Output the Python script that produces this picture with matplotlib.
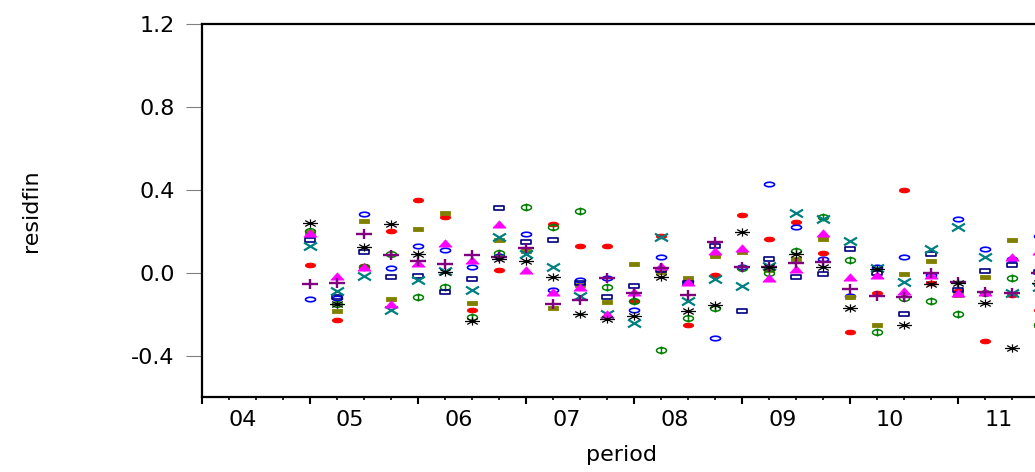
import numpy as np
import matplotlib
matplotlib.use("Agg")
import matplotlib.pyplot as plt
from matplotlib.path import Path
from matplotlib.ticker import FixedLocator, MultipleLocator, FormatStrFormatter
from matplotlib.transforms import ScaledTranslation

# quarters 2005Q1 .. 2011Q4, counted from 2004Q1 = 0
quarters = list(range(4, 32))
year_labels = ["04", "05", "06", "07", "08", "09", "10", "11"]

# residuals per cross-section
s_blue = [-0.129, -0.12, 0.284, 0.024, 0.129, 0.11, 0.029, 0.08, 0.186, -0.084, -0.035, -0.024, -0.18, 0.077,
          -0.04, -0.317, 0.03, 0.428, 0.22, 0.065, -0.113, 0.029, 0.074, -0.01, 0.258, 0.113, 0.065, 0.177]
s_red = [0.037, -0.229, 0.032, 0.202, 0.352, 0.271, -0.179, 0.013, 0.105, 0.236, 0.131, 0.129, -0.137, 0.178,
         -0.25, -0.011, 0.278, 0.161, 0.247, 0.094, -0.285, -0.1, 0.4, -0.05, -0.09, -0.329, -0.108, -0.18]
s_olive = [0.198, -0.185, 0.249, -0.129, 0.21, 0.287, -0.148, 0.158, 0.105, -0.169, -0.06, -0.14, 0.04, 0.005,
           -0.027, 0.082, 0.102, 0.013, 0.065, 0.161, -0.119, -0.253, -0.008, 0.057, -0.108, -0.019, 0.158, -0.25]
s_green = [0.2, -0.15, 0.03, 0.09, -0.119, -0.068, -0.216, 0.094, 0.319, 0.223, 0.3, -0.071, -0.137, -0.371,
           -0.218, -0.172, 0.021, -0.003, 0.107, 0.271, 0.061, -0.288, -0.124, -0.137, -0.2, -0.1, -0.027, -0.25]
s_navy = [0.158, -0.119, 0.1, -0.021, -0.014, -0.095, -0.032, 0.313, 0.147, 0.158, -0.05, -0.119, -0.064, 0.015,
          -0.05, 0.131, -0.184, 0.065, -0.019, -0.008, 0.113, -0.003, -0.2, 0.089, -0.084, 0.008, 0.037, 0.005]
s_teal = [0.129, -0.087, -0.016, -0.18, -0.035, 0.008, -0.084, 0.174, 0.09, 0.026, -0.111, -0.197, -0.242, 0.171,
          -0.135, -0.03, -0.064, 0.032, 0.287, 0.258, 0.153, 0.021, -0.047, 0.113, 0.22, 0.077, -0.1, -0.068]
s_magenta = [0.19, -0.014, 0.026, -0.153, 0.045, 0.145, 0.061, 0.236, 0.013, -0.092, -0.071, -0.197, -0.092, 0.032,
             -0.044, 0.107, 0.121, -0.027, 0.016, 0.19, -0.019, -0.01, -0.089, -0.011, -0.097, -0.092, 0.077, 0.107]
s_purple = [-0.056, -0.048, 0.187, 0.087, 0.057, 0.042, 0.086, 0.077, 0.118, -0.151, -0.132, -0.024, -0.1, 0.021,
            -0.108, 0.15, 0.026, 0.029, 0.048, 0.053, -0.076, -0.113, -0.116, 0.0, -0.044, -0.092, -0.097, 0.0]
s_black = [0.239, -0.151, 0.126, 0.234, 0.09, 0.005, -0.232, 0.065, 0.058, -0.019, -0.197, -0.221, -0.21, -0.022,
           -0.185, -0.156, 0.198, 0.03, 0.09, 0.029, -0.169, 0.018, -0.25, -0.055, -0.051, -0.145, -0.361, -0.05]

# wide (horizontally stretched) marker shapes
t = np.linspace(0, 2 * np.pi, 40)
ellipse = Path(np.column_stack([np.cos(t), 0.45 * np.sin(t)]), closed=True)
rect = Path([(-1, -0.5), (1, -0.5), (1, 0.5), (-1, 0.5), (-1, -0.5)], closed=True)
tri = Path([(-1, -0.55), (1, -0.55), (0, 0.55), (-1, -0.55)], closed=True)
plus = Path([(-1, 0), (1, 0), (0, -0.6), (0, 0.6)], [Path.MOVETO, Path.LINETO, Path.MOVETO, Path.LINETO])
cross = Path([(-1, -0.6), (1, 0.6), (-1, 0.6), (1, -0.6)], [Path.MOVETO, Path.LINETO, Path.MOVETO, Path.LINETO])
ang = np.deg2rad([0, 45, 90, 135])
star_v, star_c = [], []
for a in ang:
    star_v += [(np.cos(a), 0.55 * np.sin(a)), (-np.cos(a), -0.55 * np.sin(a))]
    star_c += [Path.MOVETO, Path.LINETO]
star = Path(star_v, star_c)
phi_v = [(np.cos(a), 0.55 * np.sin(a)) for a in t] + [(0, -0.8), (0, 0.8)]
phi_c = [Path.MOVETO] + [Path.LINETO] * (len(t) - 1) + [Path.MOVETO, Path.LINETO]
phi = Path(phi_v, phi_c)

fig = plt.figure(figsize=(10.35, 4.72), dpi=100)
ax = fig.add_axes([201.7 / 1035, (472 - 397) / 472, 972 / 1035, 372.7 / 472])

x = np.array(quarters)
# (values, marker, size px, edge colour, face colour, edge width pt)
series = [
    (s_red, ellipse, 10, "#FF0000", "#FF0000", 0.8),
    (s_blue, ellipse, 10, "#0000FF", "none", 1.2),
    (s_olive, rect, 10, "#808000", "#808000", 0.6),
    (s_green, phi, 10, "#008000", "none", 1.1),
    (s_navy, rect, 10, "#000080", "none", 1.2),
    (s_teal, cross, 13, "#008080", "none", 1.6),
    (s_magenta, tri, 13, "#FF00FF", "#FF00FF", 0.6),
    (s_purple, plus, 16, "#800080", "none", 1.7),
    (s_black, star, 15, "#000000", "none", 0.9),
]
for vals, mk, sz, ec, fc, mew in series:
    ax.plot(x, vals, linestyle="none", marker=mk, ms=sz * 0.72, mec=ec, mfc=fc, mew=mew)

ax.set_xlim(0, 36)
ax.set_ylim(-0.6, 1.2)

ax.yaxis.set_major_locator(FixedLocator([-0.4, 0.0, 0.4, 0.8, 1.2]))
ax.yaxis.set_major_formatter(FormatStrFormatter("%.1f"))
ax.tick_params(axis="y", direction="out", length=11.5, width=0.8, color="#808080",
               pad=8, labelsize=16, labelcolor="black")

ax.xaxis.set_minor_locator(MultipleLocator(1))
ax.set_xticks(range(0, 32, 4))
ax.set_xticklabels(year_labels)
ax.tick_params(axis="x", which="major", direction="out", length=5, width=1.5, pad=4, labelsize=16)
ax.tick_params(axis="x", which="minor", direction="out", length=2.5, width=1.2)
# year labels sit in the middle of the year, not on the year tick
shift = ScaledTranslation(40.5 / 100, 0, fig.dpi_scale_trans)
for lab in ax.get_xticklabels():
    lab.set_transform(lab.get_transform() + shift)

for side in ["left", "top", "bottom"]:
    ax.spines[side].set_linewidth(1.6)
ax.spines["right"].set_visible(False)

ax.set_xlabel("period", fontsize=16, va="center")
ax.xaxis.set_label_coords((621 - 201.7) / 972, (397 - 455) / 372.7)
ax.set_ylabel("residfin", fontsize=16, family=["DejaVu Sans Condensed", "DejaVu Sans"], va="center")
ax.yaxis.set_label_coords((31 - 201.7) / 972, 0.5)

fig.savefig("out.png", dpi=100)
